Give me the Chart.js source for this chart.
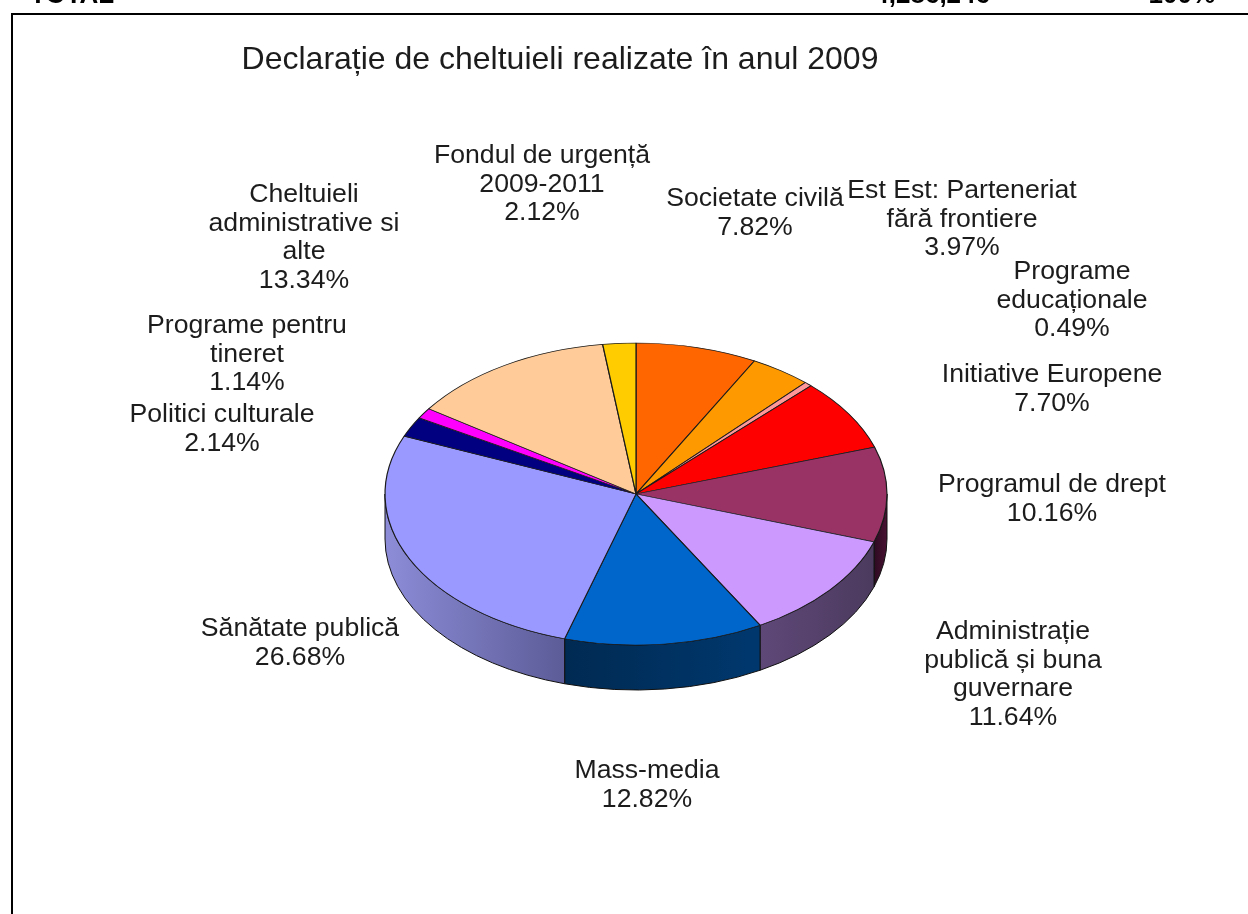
<!DOCTYPE html>
<html><head><meta charset="utf-8">
<style>html,body{margin:0;padding:0;background:#fff}canvas{display:block}</style>
<script src="https://cdn.jsdelivr.net/npm/chart.js@4"></script>
</head><body><canvas id="c" width="1248" height="914"></canvas>
<script>
const titleText = "Declarație de cheltuieli realizate în anul 2009";
const categories = [
  ["Societate civilă"],
  ["Est Est: Parteneriat","fără frontiere"],
  ["Programe","educaționale"],
  ["Initiative Europene"],
  ["Programul de drept"],
  ["Administrație","publică și buna","guvernare"],
  ["Mass-media"],
  ["Sănătate publică"],
  ["Politici culturale"],
  ["Programe pentru","tineret"],
  ["Cheltuieli","administrative si","alte"],
  ["Fondul de urgență","2009-2011"]
];
const shares = [7.82,3.97,0.49,7.70,10.16,11.64,12.82,26.68,2.14,1.14,13.34,2.12];
const headerCells = ["TOTAL","4,286,246","100%"];

const sliceColors = ["#FF6600","#FF9900","#FF9999","#FF0000","#993366","#CC99FF","#0066CC","#9999FF","#000080","#FF00FF","#FFCC99","#FFCC00"];
const wallColors = [null,null,null,null,["#4a1234","#2c0a20"],["#4c3a5e","#5e4878"],["#00386e","#002a52"],["#5c5c98","#8c8cd8"],null,null,null,null];
const labelCenters = [[755,199],[962,191],[1072,272],[1052,375],[1052,485],[1013,632],[647,771],[300,629],[222,415],[247,326],[304,195],[542,156]];
const LABEL_FONT = '25px "Liberation Sans", Arial, sans-serif';
const LABEL_STRETCH = 1.065;
const LINE_H = 28.7;
const PIE = {cx:636, cy:494, rx:251, ry:151, depth:45};

function stretchedText(c,t,x,y,k){
  c.save();
  c.scale(k,1);
  c.fillText(t,x/k,y);
  c.restore();
}

const pie3d = {
  id:'pie3d',
  beforeDraw(chart){
    const c = chart.ctx;
    c.save();
    c.fillStyle='#fff'; c.fillRect(0,0,1248,914);
    c.strokeStyle='#000'; c.lineWidth=2;
    c.beginPath(); c.moveTo(1248,14); c.lineTo(12,14); c.lineTo(12,914); c.stroke();
    c.fillStyle='#000'; c.font='bold 26px "Liberation Sans", Arial, sans-serif';
    c.textBaseline='alphabetic'; c.textAlign='left';
    c.fillText(headerCells[0],30,3);
    c.textAlign='right';
    c.fillText(headerCells[1],990,3);
    c.fillText(headerCells[2],1215,3);
    c.fillStyle='#1c1c1c'; c.font='32px "Liberation Sans", Arial, sans-serif';
    c.textAlign='center'; c.textBaseline='middle';
    c.fillText(titleText,560,60);
    c.restore();
  },
  beforeDatasetsDraw(chart){
    const c = chart.ctx, meta = chart.getDatasetMeta(0);
    const {cx,cy,rx,ry,depth} = PIE;
    c.save();
    meta.data.forEach((arc,i)=>{
      const a = Math.max(arc.startAngle,0), b = Math.min(arc.endAngle,Math.PI);
      if (b<=a || !wallColors[i]) return;
      const x0 = cx+rx*Math.cos(a), x1 = cx+rx*Math.cos(b);
      const g = c.createLinearGradient(x0,0,x1,0);
      g.addColorStop(0,wallColors[i][0]); g.addColorStop(1,wallColors[i][1]);
      c.beginPath();
      c.ellipse(cx,cy,rx,ry,0,a,b);
      c.ellipse(cx,cy+depth,rx,ry,0,b,a,true);
      c.closePath();
      c.fillStyle=g; c.fill();
      c.strokeStyle='#111'; c.lineWidth=1; c.stroke();
    });
    c.restore();
    c.save();
    const s = meta.data[0];
    c.translate(cx,cy);
    c.scale(rx/s.outerRadius, ry/s.outerRadius);
    c.translate(-s.x,-s.y);
  },
  afterDatasetsDraw(chart){
    chart.ctx.restore();
    const c = chart.ctx;
    c.save();
    c.fillStyle='#1c1c1c'; c.font=LABEL_FONT; c.textAlign='center'; c.textBaseline='middle';
    categories.forEach((lines,i)=>{
      const all = lines.concat([shares[i].toFixed(2)+'%']);
      all.forEach((t,k)=>stretchedText(c,t,labelCenters[i][0],labelCenters[i][1]+k*LINE_H,LABEL_STRETCH));
    });
    c.restore();
  }
};

new Chart(document.getElementById('c'),{
  type:'pie',
  data:{labels:categories.map(l=>l.join(' ')),datasets:[{data:shares,backgroundColor:sliceColors,borderColor:'#1a1a1a',borderWidth:1.2}]},
  options:{responsive:false,animation:false,radius:251,
    plugins:{legend:{display:false},tooltip:{enabled:false},title:{display:false}}},
  plugins:[pie3d]
});
</script></body></html>
